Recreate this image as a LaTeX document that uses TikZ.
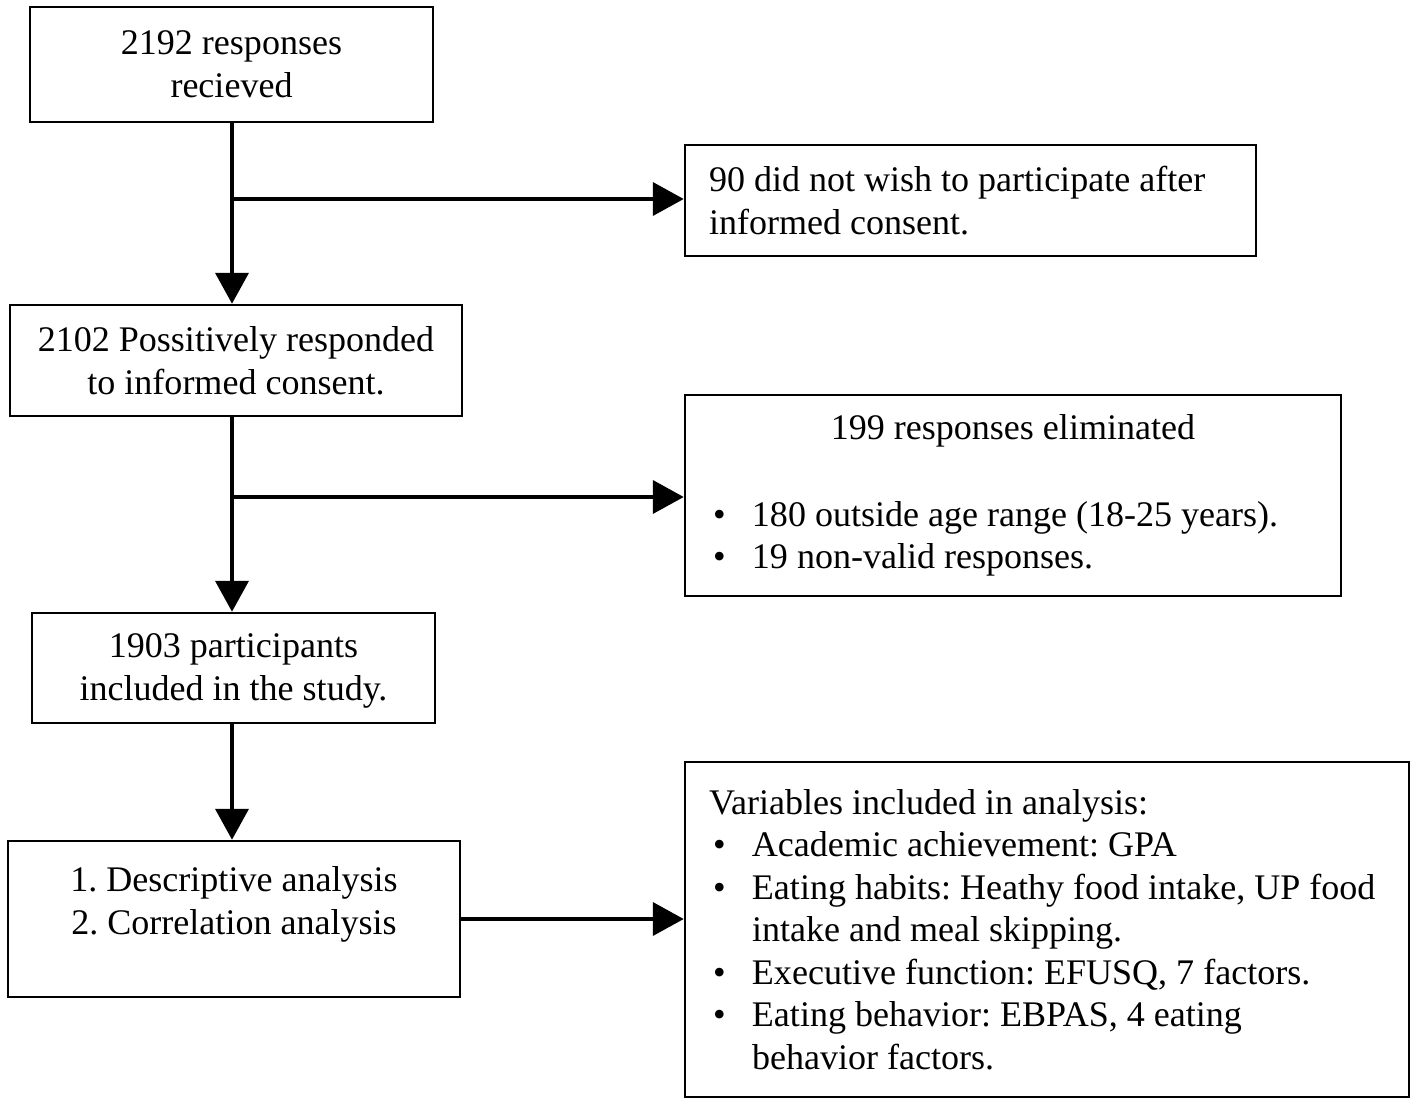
\documentclass[tikz,border=0pt]{standalone}
\usepackage{fontspec}
\setmainfont{Liberation Serif}
\usetikzlibrary{arrows.meta}
\frenchspacing

\newcommand{\boxfont}{\fontsize{20.5}{24.2}\selectfont}
\newcommand{\bulitem}[1]{\par\noindent\hangindent=0.86cm\hangafter=1\makebox[0.86cm][l]{\hspace{0.08cm}\textbullet}#1\par}

\begin{document}
\begin{tikzpicture}[
    box/.style={draw, line width=0.05cm, rectangle, inner sep=0pt, font=\boxfont},
    arr/.style={line width=0.08cm, -{Triangle[length=0.62cm, width=0.66cm]}}
  ]
  \useasboundingbox (0,0) rectangle (28.34,-22.08);

  % left column
  \node[box, minimum width=8.06cm, minimum height=2.30cm, align=center] (recv) at (4.63,-1.29) {2192 responses\\recieved};
  \node[box, minimum width=9.04cm, minimum height=2.22cm, align=center] (consent) at (4.72,-7.21) {2102 Possitively responded\\to informed consent.};
  \node[box, minimum width=8.06cm, minimum height=2.20cm, align=center] (incl) at (4.67,-13.36) {\strut 1903 participants\\included in the study.};
  \node[box, minimum width=9.04cm, minimum height=3.12cm, align=center] (desc) at (4.68,-18.38) {1. Descriptive analysis\\2. Correlation analysis\\[-0.36cm] \strut};

  % right column
  \node[box, minimum width=11.42cm, minimum height=2.22cm, text width=10.46cm, align=flush left] (nowish) at (19.41,-4.01) {90 did not wish to participate after\\informed consent.};
  \node[box, minimum width=13.12cm, minimum height=4.02cm, text width=12.16cm, align=flush left] (elim) at (20.26,-9.91) {%
    {\centering 199 responses eliminated\par}\vspace{25pt}%
    \bulitem{180 outside age range (18-25 years).}%
    \bulitem{19 non-valid responses.}};
  \node[box, minimum width=14.48cm, minimum height=6.70cm, text width=13.52cm, align=flush left] (vars) at (20.94,-18.59) {%
    Variables included in analysis:\par
    \bulitem{Academic achievement: GPA}%
    \bulitem{Eating habits: Heathy food intake, UP food\newline intake and meal skipping.}%
    \bulitem{Executive function: EFUSQ, 7 factors.}%
    \bulitem{Eating behavior: EBPAS, 4 eating\newline behavior factors.}};

  % trunk and branches
  \coordinate (t1) at (4.64,-3.98);
  \coordinate (t2) at (4.64,-9.94);
  \draw[arr] (t1 |- recv.south) -- (t1 |- consent.north);
  \draw[arr] (t1) -- (t1 -| nowish.west);
  \draw[arr] (t2 |- consent.south) -- (t2 |- incl.north);
  \draw[arr] (t2) -- (t2 -| elim.west);
  \draw[arr] (t2 |- incl.south) -- (t2 |- desc.north);
  \draw[arr] (desc.east) -- (desc.east -| vars.west);
\end{tikzpicture}
\end{document}
